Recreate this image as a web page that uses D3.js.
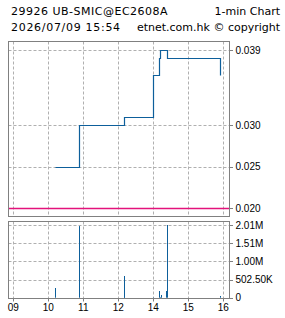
<!DOCTYPE html>
<meta charset="utf-8">
<style>
  body { margin: 0; background: #fff; }
  .frame { fill: none; stroke: #808080; stroke-width: 1px; shape-rendering: crispEdges; }
  .lbl { font-family: "Liberation Sans", Arial, sans-serif; font-size: 10px; fill: #000; }
  .head { font-family: "DejaVu Sans", sans-serif; font-size: 11px; fill: #000; }
</style>
<body>
<script src="https://d3js.org/d3.v7.min.js"></script>
<div id="chart"></div>
<script>

// header texts
var title = "29926 UB-SMIC@EC2608A";
var chartType = "1-min Chart";
var stamp = "2026/07/09 15:54";
var credit = "etnet.com.hk \u00a9 copyright";

// trades (1-min)
var times   = ["10:11", "10:53", "13:09", "13:10", "13:59", "14:10", "14:11", "14:14", "14:22", "14:24", "15:54"];
var prices  = [0.025, 0.030, 0.031, 0.031, 0.036, 0.038, 0.039, 0.039, 0.039, 0.038, 0.036];
var volumes = [268000, 1980000, 600000, 100000, 10000, 185000, 15000, 75000, 185000, 2010000, 47000];

var prevClose = 0.020;

// axis ticks
var hourTicks  = [9, 10, 11, 12, 14, 15, 16];
var hourLabels = ["09", "10", "11", "12", "14", "15", "16"];
var priceTicks = [0.020, 0.025, 0.030, 0.039];
var priceLabels = ["0.020", "0.025", "0.030", "0.039"];
var volTicks  = [0, 502500, 1005000, 1507500, 2010000];
var volLabels = ["0", "502.50K", "1.00M", "1.51M", "2.01M"];

var W = 285, H = 318;
var x0 = 8.5, x1 = 229.5;
var pricePanel = {top: 41.5, bottom: 216.5};
var volPanel = {top: 221.5, bottom: 298.5};
var gridColor = "#b0b0b0";

// trading hours with lunch (12-13) removed
function tradeHour(h) { return h >= 13 ? h - 1 : h; }
function parseT(s) {
  var p = s.split(":");
  return tradeHour(+p[0] + (+p[1]) / 60);
}

var data = times.map(function(t, i) {
  return {t: parseT(t), p: prices[i], v: volumes[i]};
});

var x = d3.scaleLinear().domain([9, 15]).range([13.3, 223.3]);
var y = d3.scaleLinear().domain([0.020, 0.030]).range([208.3, 125]);
var yv = d3.scaleLinear().domain([0, 2010000]).range([297.7, 225]);

function hx(h) { return Math.round(x(tradeHour(h))) + 0.5; }
function py(v) { return Math.round(y(v)) + 0.5; }
function vy(v) { return Math.round(yv(v)) + 0.5; }

var svg = d3.select("#chart").append("svg")
    .attr("width", W)
    .attr("height", H);

svg.append("rect").attr("width", W).attr("height", H).attr("fill", "#fff");

// header
svg.append("text").attr("class", "head").attr("x", 11).attr("y", 15)
  .style("letter-spacing", "0.5px").text(title);
svg.append("text").attr("class", "head").attr("x", 280).attr("y", 15)
  .attr("text-anchor", "end").text(chartType);
svg.append("text").attr("class", "head").attr("x", 11).attr("y", 31)
  .style("letter-spacing", "0.7px").text(stamp);
svg.append("text").attr("class", "head").attr("x", 280).attr("y", 31)
  .attr("text-anchor", "end").text(credit);

// grid
var grid = svg.append("g")
  .attr("stroke", gridColor)
  .attr("stroke-dasharray", "3,2");

grid.selectAll("line.vg")
  .data(hourTicks)
  .enter().append("line")
    .attr("class", "vg")
    .attr("x1", hx).attr("x2", hx)
    .attr("y1", pricePanel.top).attr("y2", pricePanel.bottom);

grid.selectAll("line.vg2")
  .data(hourTicks)
  .enter().append("line")
    .attr("class", "vg2")
    .attr("x1", hx).attr("x2", hx)
    .attr("y1", volPanel.top).attr("y2", volPanel.bottom);

grid.selectAll("line.pg")
  .data(priceTicks.filter(function(d) { return d !== prevClose; }))
  .enter().append("line")
    .attr("class", "pg")
    .attr("x1", x0).attr("x2", x1)
    .attr("y1", py).attr("y2", py);

grid.selectAll("line.vgh")
  .data(volTicks.slice(1))
  .enter().append("line")
    .attr("class", "vgh")
    .attr("x1", x0).attr("x2", x1)
    .attr("y1", vy).attr("y2", vy);

// previous close line
svg.append("line")
  .attr("x1", x0).attr("x2", x1)
  .attr("y1", py(prevClose))
  .attr("y2", py(prevClose))
  .attr("stroke", "#e3137b")
  .attr("stroke-width", 1.5);

// price line
var priceLine = d3.line()
  .x(function(d) { return Math.round(x(d.t)) + 0.5; })
  .y(function(d) { return py(d.p); })
  .curve(d3.curveStepAfter);

svg.append("path")
  .datum(data)
  .attr("fill", "none")
  .attr("stroke", "#0d5f9b")
  .attr("stroke-width", 1.2)
  .attr("d", priceLine);

// volume bars
svg.append("g")
  .selectAll("rect")
  .data(data)
  .enter().append("rect")
    .attr("x", function(d) { return Math.round(x(d.t)); })
    .attr("y", function(d) { return yv(d.v); })
    .attr("width", 1)
    .attr("height", function(d) { return yv(0) - yv(d.v); })
    .attr("fill", "#0d5f9b");

// frames
svg.append("rect").attr("class", "frame")
  .attr("x", x0).attr("y", pricePanel.top)
  .attr("width", x1 - x0).attr("height", pricePanel.bottom - pricePanel.top);
svg.append("rect").attr("class", "frame")
  .attr("x", x0).attr("y", volPanel.top)
  .attr("width", x1 - x0).attr("height", volPanel.bottom - volPanel.top);

// right axis ticks
var ga = svg.append("g");
ga.selectAll("line.p")
  .data(priceTicks)
  .enter().append("line")
    .attr("x1", x1).attr("x2", x1 + 3.5)
    .attr("y1", py).attr("y2", py)
    .attr("stroke", "#808080");
ga.selectAll("text.p")
  .data(priceTicks)
  .enter().append("text")
    .attr("class", "lbl")
    .attr("x", 235.5)
    .attr("y", function(d) { return y(d); })
    .attr("dy", "0.36em")
    .text(function(d, i) { return priceLabels[i]; });

ga.selectAll("line.v")
  .data(volTicks)
  .enter().append("line")
    .attr("x1", x1).attr("x2", x1 + 3.5)
    .attr("y1", vy).attr("y2", vy)
    .attr("stroke", "#808080");
ga.selectAll("text.v")
  .data(volTicks)
  .enter().append("text")
    .attr("class", "lbl")
    .attr("x", 235.5)
    .attr("y", function(d) { return yv(d); })
    .attr("dy", "0.36em")
    .text(function(d, i) { return volLabels[i]; });

// bottom axis: hours
var gb = svg.append("g");
gb.selectAll("line")
  .data(hourTicks)
  .enter().append("line")
    .attr("x1", hx).attr("x2", hx)
    .attr("y1", volPanel.bottom)
    .attr("y2", volPanel.bottom + 3)
    .attr("stroke", "#808080");
gb.selectAll("text")
  .data(hourTicks)
  .enter().append("text")
    .attr("class", "lbl")
    .attr("x", function(d) { return x(tradeHour(d)); })
    .attr("y", 310.7)
    .attr("text-anchor", "middle")
    .text(function(d, i) { return hourLabels[i]; });

</script>
</body>
</html>
